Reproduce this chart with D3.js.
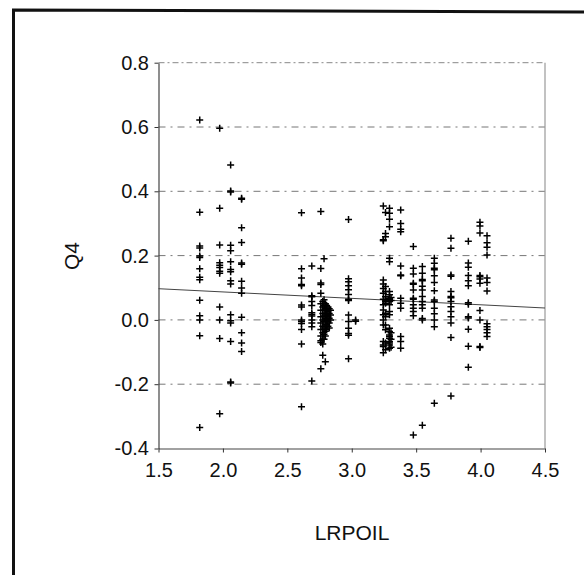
<!DOCTYPE html>
<html>
<head>
<meta charset="utf-8">
<script src="https://cdn.jsdelivr.net/npm/d3@7"></script>
<style>
  html, body { margin: 0; padding: 0; background: #fff; }
  svg { display: block; }
  text { font-family: "Liberation Sans", Arial, sans-serif; fill: #111; }
</style>
</head>
<body>
<svg id="chart" width="584" height="575"></svg>
<script>
// Axis ticks
const xTicks = [1.5, 2.0, 2.5, 3.0, 3.5, 4.0, 4.5];
const yTicks = [-0.4, -0.2, 0.0, 0.2, 0.4, 0.6, 0.8];
const gridValues = [-0.2, 0.0, 0.2, 0.4, 0.6];

// LRPOIL levels (one per column of observations) and the Q4 values observed at each
const lrpoilLevels = [1.82, 1.975, 2.06, 2.145, 2.61, 2.69, 2.76, 2.775, 2.785, 2.795,
  2.805, 2.815, 2.825, 2.835, 2.975, 3.03, 3.245, 3.262, 3.293, 3.305, 3.38,
  3.478, 3.548, 3.641, 3.77, 3.905, 3.995, 4.05];
const q4Values = [
  [0.622, 0.335, 0.23, 0.224, 0.199, 0.194, 0.159, 0.133, 0.125, 0.061, 0.013, 0.0, -0.049, -0.335],
  [0.596, 0.347, 0.233, 0.178, 0.17, 0.163, 0.151, 0.145, 0.04, 0.0, -0.058, -0.292],
  [0.482, 0.401, 0.398, 0.232, 0.215, 0.181, 0.157, 0.15, 0.122, 0.112, 0.016, -0.003, -0.01, -0.067, -0.193, -0.196],
  [0.378, 0.375, 0.287, 0.241, 0.177, 0.173, 0.12, 0.099, 0.083, 0.008, -0.04, -0.072, -0.098],
  [0.333, 0.159, 0.13, 0.11, 0.106, 0.046, 0.04, 0.0, -0.005, -0.011, -0.03, -0.075, -0.27],
  [0.168, 0.075, 0.072, 0.057, 0.045, 0.022, 0.017, 0.012, 0.0, -0.01, -0.021, -0.19],
  [0.337, 0.16, 0.115, 0.11, 0.083, 0.05, 0.03, 0.01, -0.01, -0.03, -0.05, -0.065, -0.07, -0.152],
  [0.057, 0.04, 0.02, 0.0, -0.02, -0.04, -0.06, -0.075, -0.11],
  [0.19, 0.063, 0.045, 0.03, 0.012, -0.005, -0.025, -0.045, -0.06],
  [0.05, 0.035, 0.02, 0.005, -0.015, -0.035, -0.05, -0.13],
  [0.045, 0.03, 0.015, 0.0, -0.015, -0.03],
  [0.04, 0.025, 0.01, -0.005, -0.02],
  [0.035, 0.02, 0.005, -0.01, -0.025],
  [0.03, 0.015, 0.0],
  [0.312, 0.128, 0.119, 0.106, 0.094, 0.079, 0.064, 0.06, 0.015, -0.005, -0.026, -0.042, -0.048, -0.121],
  [0.0, -0.004],
  [0.354, 0.249, 0.246, 0.124, 0.112, 0.098, 0.083, 0.064, 0.047, 0.031, 0.016, 0.0, -0.016, -0.067, -0.078, -0.083, -0.102],
  [0.334, 0.269, 0.259, 0.104, 0.088, 0.072, 0.062, 0.058, 0.052, 0.021, 0.01, -0.016, -0.031, -0.072, -0.093],
  [0.347, 0.332, 0.313, 0.29, 0.192, 0.181, 0.088, 0.078, 0.067, 0.064, 0.057, 0.047, 0.026, 0.016, -0.026, -0.036, -0.047, -0.052, -0.057, -0.067, -0.072, -0.078, -0.088],
  [0.07, 0.06, -0.04, -0.06, -0.085],
  [0.342, 0.3, 0.282, 0.274, 0.168, 0.14, 0.137, 0.067, 0.052, 0.036, -0.052, -0.067, -0.088],
  [0.228, 0.161, 0.143, 0.114, 0.111, 0.093, 0.067, 0.064, 0.047, 0.036, 0.026, 0.013, -0.358],
  [0.166, 0.145, 0.126, 0.122, 0.105, 0.093, 0.073, 0.057, 0.047, 0.036, 0.004, 0.0, -0.328],
  [0.192, 0.176, 0.161, 0.156, 0.137, 0.116, 0.091, 0.062, 0.057, 0.036, 0.019, 0.0, -0.021, -0.259],
  [0.254, 0.223, 0.14, 0.136, 0.088, 0.073, 0.069, 0.057, 0.041, 0.026, 0.01, -0.01, -0.055, -0.237],
  [0.245, 0.177, 0.164, 0.138, 0.122, 0.106, 0.053, 0.049, 0.01, 0.006, -0.029, -0.082, -0.147],
  [0.304, 0.292, 0.27, 0.138, 0.134, 0.127, 0.114, 0.029, 0.0, -0.083, -0.086],
  [0.262, 0.24, 0.226, 0.202, 0.13, 0.116, 0.09, -0.012, -0.021, -0.03, -0.04, -0.052]
];

// Fitted regression line: Q4 = intercept + slope * LRPOIL
const fitCoef = [0.127, -0.02];

const svg = d3.select("#chart");
const plot = { left: 158.5, right: 545, top: 62.7, bottom: 448.5 };

const x = d3.scaleLinear().domain([1.5, 4.5]).range([plot.left, plot.right]);
const y = d3.scaleLinear().domain([-0.4, 0.8]).range([plot.bottom, plot.top]);

// One decimal, plain hyphen for negatives
const fmt = d => d3.format(".1f")(d).replace("\u2212", "-");

// Outer frame
svg.append("path")
  .attr("d", "M13.5,575 L13.5,10 L584,12")
  .attr("fill", "none")
  .attr("stroke", "#111")
  .attr("stroke-width", 3);

// Horizontal grid lines
svg.append("g")
  .selectAll("line")
  .data(gridValues)
  .join("line")
  .attr("x1", plot.left).attr("x2", plot.right)
  .attr("y1", d => y(d)).attr("y2", d => y(d))
  .attr("stroke", "#777")
  .attr("stroke-width", 1)
  .attr("stroke-dasharray", "7,5,2,5");

// Top and right edges of the plot box
svg.append("line")
  .attr("x1", plot.left).attr("x2", plot.right)
  .attr("y1", y(0.8)).attr("y2", y(0.8))
  .attr("stroke", "#888").attr("stroke-width", 1)
  .attr("stroke-dasharray", "6,3,2,3");
svg.append("line")
  .attr("x1", plot.right).attr("x2", plot.right)
  .attr("y1", y(0.8)).attr("y2", y(-0.4))
  .attr("stroke", "#999").attr("stroke-width", 1.2);

// Regression line
svg.append("line")
  .attr("x1", x(1.5)).attr("y1", y(fitCoef[0] + fitCoef[1] * 1.5))
  .attr("x2", x(4.5)).attr("y2", y(fitCoef[0] + fitCoef[1] * 4.5))
  .attr("stroke", "#444")
  .attr("stroke-width", 1);

// Points drawn as plus markers
const points = lrpoilLevels.flatMap((lv, i) => q4Values[i].map(v => ({ lrpoil: lv, q4: v })));
const arm = 3.5;
svg.append("g")
  .selectAll("path")
  .data(points)
  .join("path")
  .attr("d", d => {
    const px = x(d.lrpoil), py = y(d.q4);
    return `M${px - arm},${py}H${px + arm}M${px},${py - arm}V${py + arm}`;
  })
  .attr("stroke", "#000")
  .attr("stroke-width", 1.5)
  .attr("fill", "none");

// Axes
const xAxis = svg.append("g")
  .attr("transform", `translate(0,${plot.bottom})`)
  .call(d3.axisBottom(x).tickValues(xTicks).tickFormat(fmt)
    .tickSize(4).tickSizeOuter(0).tickPadding(10));
const yAxis = svg.append("g")
  .attr("transform", `translate(${plot.left},0)`)
  .call(d3.axisLeft(y).tickValues(yTicks).tickFormat(fmt)
    .tickSize(4).tickSizeOuter(0).tickPadding(5.5));

[xAxis, yAxis].forEach(g => {
  g.select(".domain").attr("stroke", "#444").attr("stroke-width", 1.2);
  g.selectAll(".tick line").attr("stroke", "#333");
  g.selectAll(".tick text")
    .attr("font-size", 20)
    .attr("font-family", "'Liberation Sans', Arial, sans-serif")
    .attr("fill", "#111");
});

// Axis titles
svg.append("text")
  .attr("x", 352).attr("y", 540)
  .attr("text-anchor", "middle")
  .attr("font-size", 21)
  .text("LRPOIL");
svg.append("text")
  .attr("transform", "translate(79,256) rotate(-90)")
  .attr("text-anchor", "middle")
  .attr("font-size", 21)
  .text("Q4");
</script>
</body>
</html>
